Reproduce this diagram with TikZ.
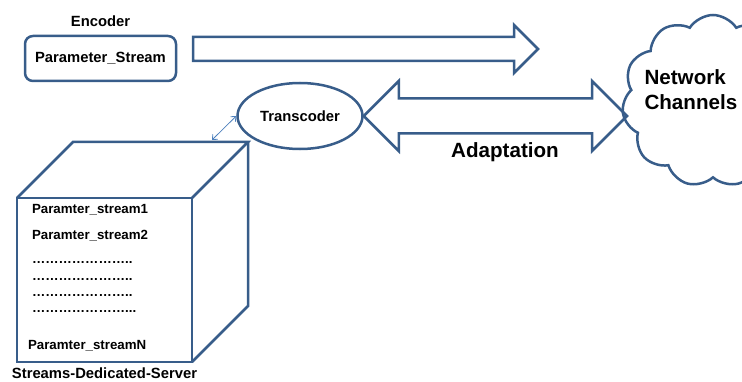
\documentclass[tikz,border=0pt]{standalone}
\usepackage{fontspec}
\setmainfont{Liberation Sans}
\usepackage{tikz}
\usetikzlibrary{arrows.meta,positioning,calc,shapes.geometric,shapes.symbols}
\definecolor{edgeblue}{HTML}{385D8A}
\definecolor{linkblue}{HTML}{4F81BD}
\newcommand{\boxfont}{\fontsize{14.8pt}{17pt}\selectfont\bfseries}
\newcommand{\itemfont}{\fontsize{13.3pt}{16pt}\selectfont\bfseries}
\newcommand{\headfont}{\fontsize{20.6pt}{25pt}\selectfont\bfseries}

\begin{document}
\begin{tikzpicture}[x=1pt,y=1pt,>=Latex,
 every node/.style={align=center},
 outline/.style={draw=edgeblue,line width=2.5pt},
 store/.style={outline,rounded corners=8pt,minimum width=151pt,minimum height=45pt,font=\boxfont},
 entry/.style={anchor=west,font=\itemfont},
 link/.style={draw=linkblue,line width=0.8pt,{Straight Barb[length=4pt,width=7pt]}-{Straight Barb[length=4pt,width=7pt]}}]
\useasboundingbox (0,0) rectangle (742,381);
% encoder side
\node[store] (pstream) at (100.5,322.5) {Parameter\_Stream};
\node[above=5pt of pstream,font=\boxfont] (encoder) {Encoder};
\coordinate (sendtail) at (193,332);
\coordinate (sendtip) at (538,332);
\draw[outline] ($(sendtail)+(0,12)$) -- ($(sendtip)+(-24,12)$) -- ++(0,12) -- (sendtip)
  -- ($(sendtip)+(-24,-24)$) -- ++(0,12) -- ($(sendtail)+(0,-12)$) -- cycle;
% transcoder and network
\node[outline,ellipse,minimum width=125pt,minimum height=66pt,inner sep=0pt,font=\boxfont] (trans) at (300,265) {Transcoder};
\begin{scope}
\clip (0,0) rectangle (742,381);
\node[outline,cloud,cloud puffs=11,cloud puff arc=115,aspect=1,minimum width=182pt,minimum height=172pt] (net) at (713,280) {};
\end{scope}
\node[anchor=west,align=left,font=\headfont] (nettext) at (641,291) {Network\\Channels};
\coordinate (adapttip) at (627,265);
\draw[outline] (trans.east) -- ++(35,35) -- ++(0,-17.5) -- ($(adapttip)+(-35,17.5)$) -- ++(0,17.5)
  -- (adapttip) -- ++(-35,-35) -- ++(0,17.5) -- ($(trans.east)+(35,-17.5)$) -- ++(0,-17.5) -- cycle;
\node[font=\headfont] (adapt) at (505,229) {Adaptation};
% server cube
\node[outline,inner sep=0pt,outer sep=0pt,minimum width=175pt,minimum height=164pt] (server) at (104.5,101) {};
\draw[outline] (server.north west) -- ++(56,56) -- ++(175,0) coordinate (backtop) -- (server.north east);
\draw[outline] (backtop) -- ++(0,-164) -- (server.south east);
\node[entry] (s1) at (28.5,171) {Paramter\_stream1};
\node[entry] (s2) at (28.5,145) {Paramter\_stream2};
\node[entry] (d1) at (28.5,118) {…………………..};
\node[entry] (d2) at (28.5,101) {…………………..};
\node[entry] (d3) at (28.5,85) {…………………..};
\node[entry] (d4) at (28.5,69) {…………………...};
\node[entry] (sn) at (24.5,35) {Paramter\_streamN};
\node[below=2.5pt of server,font=\boxfont] (srvlabel) {Streams-Dedicated-Server};
\coordinate (linkfoot) at (212,241);
\draw[link] (linkfoot) -- (trans.west);
\end{tikzpicture}
\end{document}
